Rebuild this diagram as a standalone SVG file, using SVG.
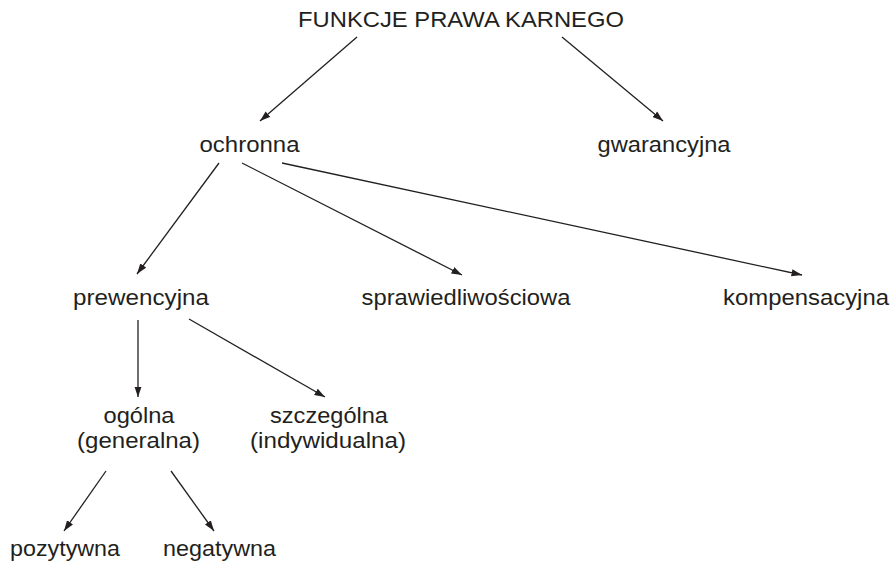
<svg xmlns="http://www.w3.org/2000/svg" width="896" height="570" viewBox="0 0 896 570">
<defs>
<marker id="arr" markerUnits="userSpaceOnUse" markerWidth="11" markerHeight="8" refX="10.5" refY="4" orient="auto">
<path d="M0,0.4 L10.5,4 L0,7.6 z" fill="#231f20"/>
</marker>
<style>
text{font-family:"Liberation Sans",Arial,sans-serif;font-size:22.5px;fill:#231f20;text-anchor:middle}
.e{stroke:#231f20;stroke-width:1.3;fill:none;marker-end:url(#arr)}
</style>
</defs>
<rect width="896" height="570" fill="#fff"/>
<g id="connectors">
<line class="e" x1="357" y1="37" x2="260" y2="121"/>
<line class="e" x1="562" y1="37" x2="663" y2="121"/>
<line class="e" x1="219" y1="163" x2="137" y2="274"/>
<line class="e" x1="242" y1="163" x2="462" y2="275"/>
<line class="e" x1="282" y1="163" x2="802" y2="275"/>
<line class="e" x1="138" y1="320" x2="138" y2="397"/>
<line class="e" x1="189" y1="319" x2="325" y2="397"/>
<line class="e" x1="106" y1="471" x2="64" y2="531"/>
<line class="e" x1="171" y1="471" x2="214" y2="531"/>
</g>
<g id="n-root"><text x="461" y="27" textLength="326" lengthAdjust="spacingAndGlyphs">FUNKCJE PRAWA KARNEGO</text></g>
<g id="n-ochronna"><text x="249.5" y="152" textLength="100" lengthAdjust="spacingAndGlyphs">ochronna</text></g>
<g id="n-gwarancyjna"><text x="664" y="152" textLength="133" lengthAdjust="spacingAndGlyphs">gwarancyjna</text></g>
<g id="n-prewencyjna"><text x="141" y="305" textLength="136" lengthAdjust="spacingAndGlyphs">prewencyjna</text></g>
<g id="n-sprawiedliwosciowa"><text x="466" y="305" textLength="209" lengthAdjust="spacingAndGlyphs">sprawiedliwościowa</text></g>
<g id="n-kompensacyjna"><text x="806" y="305" textLength="166" lengthAdjust="spacingAndGlyphs">kompensacyjna</text></g>
<g id="n-ogolna"><text x="139" y="423" textLength="71" lengthAdjust="spacingAndGlyphs">ogólna</text><text x="138.5" y="448" textLength="123" lengthAdjust="spacingAndGlyphs">(generalna)</text></g>
<g id="n-szczegolna"><text x="329" y="423" textLength="118" lengthAdjust="spacingAndGlyphs">szczególna</text><text x="328" y="448" textLength="156" lengthAdjust="spacingAndGlyphs">(indywidualna)</text></g>
<g id="n-pozytywna"><text x="65" y="556" textLength="110" lengthAdjust="spacingAndGlyphs">pozytywna</text></g>
<g id="n-negatywna"><text x="219.5" y="556" textLength="113" lengthAdjust="spacingAndGlyphs">negatywna</text></g>
</svg>
